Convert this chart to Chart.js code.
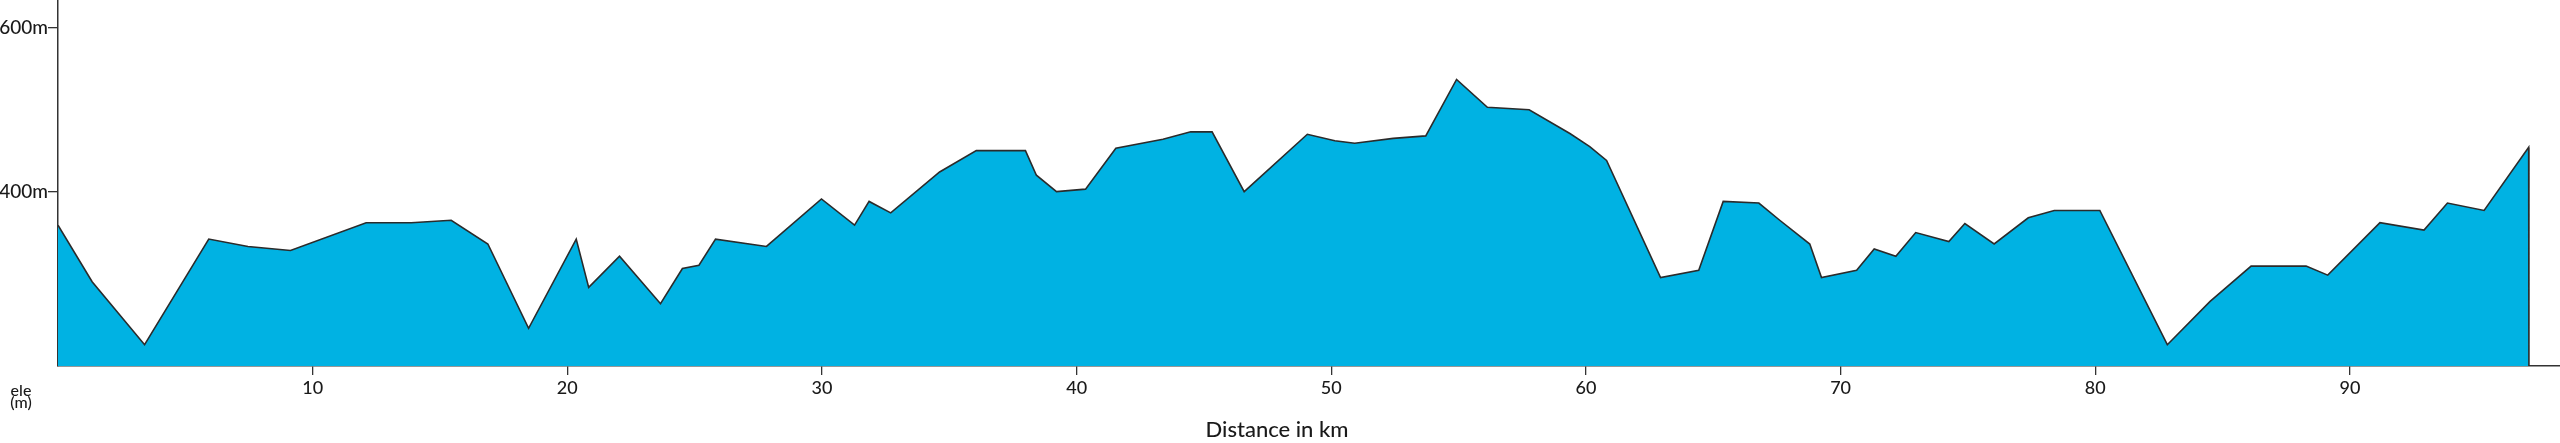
<!DOCTYPE html>
<html>
<head>
<meta charset="utf-8">
<script src="https://cdn.jsdelivr.net/npm/chart.js@4/dist/chart.umd.min.js"></script>
<style>
  html, body { margin: 0; padding: 0; background: #ffffff; }
  #wrap { width: 2560px; height: 443px; position: relative; }
</style>
</head>
<body>
<div id="wrap"><canvas id="c" width="2560" height="443"></canvas></div>
<script>
// Distance along the route (km)
const distanceKm = [
  0, 1.34, 3.40, 5.92, 7.46, 9.13, 12.1, 13.87, 15.44, 16.88,
  18.48, 20.35, 20.84, 22.05, 23.66, 24.52, 25.17, 25.82, 27.82, 29.98,
  31.28, 31.85, 32.70, 34.62, 36.06, 37.99, 38.42, 39.21, 40.35, 41.54,
  43.39, 44.48, 45.32, 46.58, 49.06, 50.14, 50.92, 52.43, 53.71, 54.92,
  56.13, 57.77, 59.37, 60.15, 60.81, 62.93, 64.43, 65.39, 66.79, 67.61,
  68.79, 69.25, 70.63, 71.32, 72.17, 72.95, 74.25, 74.88, 76.03, 77.37,
  78.39, 80.18, 82.83, 84.51, 86.12, 88.28, 89.13, 91.18, 92.91, 93.83,
  95.27, 97.02, 97.03
];
// Elevation (m)
const elevationM = [
  359, 290, 213, 342, 333, 328, 362, 362, 365, 336,
  233, 342, 283, 321, 263, 306, 310, 342, 333, 391,
  359, 388, 374, 424, 450, 450, 420, 400, 403, 453,
  464, 473, 473, 400, 470, 462, 459, 465, 468, 537,
  503, 500, 471, 455, 438, 295, 304, 388, 386, 365,
  336, 295, 304, 330, 321, 350, 339, 361, 336, 368,
  377, 377, 213, 266, 309, 309, 298, 362, 353, 386,
  377, 454, 187
];
const xTickValues = [10, 20, 30, 40, 50, 60, 70, 80, 90];
const yTickValues = [400, 600];
const xAxisTitle = 'Distance in km';
const yAxisTitleLines = ['ele', '(m)'];

const points = distanceKm.map((d, i) => ({ x: d, y: elevationM[i] }));

const FONT = 'Lato, "Open Sans", sans-serif';
const INK = '#1a1a1a';

const textPlugin = {
  id: 'axisTexts',
  afterDraw(chart) {
    const ctx = chart.ctx;
    ctx.save();
    ctx.fillStyle = INK;
    ctx.textAlign = 'center';
    ctx.textBaseline = 'middle';
    ctx.font = '500 22px ' + FONT;
    ctx.fillText(xAxisTitle, 1277, 430);
    ctx.font = '500 16px ' + FONT;
    ctx.fillText(yAxisTitleLines[0], 21, 391);
    ctx.fillText(yAxisTitleLines[1], 21, 403);
    ctx.restore();
  }
};

new Chart(document.getElementById('c'), {
  type: 'line',
  data: {
    datasets: [{
      data: points,
      borderColor: '#2b2b2b',
      borderWidth: 1.6,
      backgroundColor: '#00b2e3',
      fill: 'start',
      pointRadius: 0,
      tension: 0
    }]
  },
  options: {
    responsive: false,
    animation: false,
    layout: { padding: 0 },
    plugins: { legend: { display: false }, tooltip: { enabled: false } },
    scales: {
      x: {
        type: 'linear',
        min: 0,
        max: 98.25,
        afterBuildTicks(scale) { scale.ticks = xTickValues.map(v => ({ value: v })); },
        afterFit(scale) { scale.height = 77; scale.paddingLeft = 0; scale.paddingRight = 0; },
        grid: { display: true, drawOnChartArea: false, drawTicks: true, tickLength: 9, color: '#333333', lineWidth: 1.3 },
        border: { display: true, color: '#333333', width: 1.5 },
        ticks: {
          color: INK,
          font: { family: FONT, size: 18, weight: '500' },
          padding: 2,
          maxRotation: 0,
          autoSkip: false,
          callback: v => String(v)
        },
        title: { display: false }
      },
      y: {
        type: 'linear',
        min: 187,
        max: 634,
        afterBuildTicks(scale) { scale.ticks = yTickValues.map(v => ({ value: v })); },
        afterFit(scale) { scale.width = 58; scale.paddingTop = 0; scale.paddingBottom = 0; },
        grid: { display: true, drawOnChartArea: false, drawTicks: true, tickLength: 10, color: '#333333', lineWidth: 1.3 },
        border: { display: true, color: '#333333', width: 1.5 },
        ticks: {
          color: INK,
          font: { family: FONT, size: 19, weight: '500' },
          padding: 0,
          autoSkip: false,
          callback: v => v + 'm'
        },
        title: { display: false }
      }
    }
  },
  plugins: [textPlugin]
});
</script>
</body>
</html>
